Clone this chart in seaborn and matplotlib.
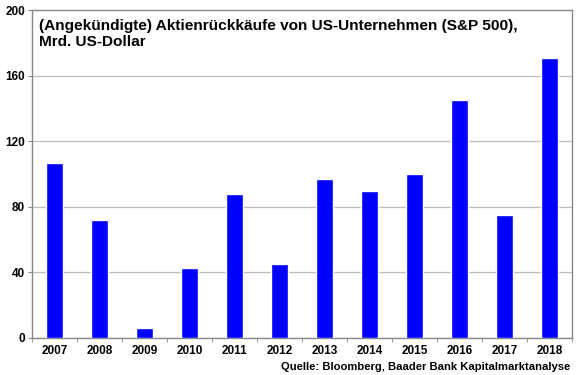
import matplotlib
matplotlib.use("Agg")
import matplotlib.pyplot as plt
import seaborn as sns
import pandas as pd

years = ["2007", "2008", "2009", "2010", "2011", "2012", "2013", "2014", "2015", "2016", "2017", "2018"]
values = [107, 72, 6, 43, 88, 45, 97, 90, 100, 145, 75, 171]
yticks = [0, 40, 80, 120, 160, 200]
title = "(Angekündigte) Aktienrückkäufe von US-Unternehmen (S&P 500),\nMrd. US-Dollar"
source = "Quelle: Bloomberg, Baader Bank Kapitalmarktanalyse"

sns.set_style("white")
plt.rcParams["font.family"] = ["Liberation Sans", "DejaVu Sans"]
plt.rcParams["text.color"] = "black"
plt.rcParams["xtick.color"] = "black"
plt.rcParams["ytick.color"] = "black"

df = pd.DataFrame({"Jahr": years, "Wert": values})

fig = plt.figure(figsize=(5.8, 3.75), dpi=100)
ax = fig.add_axes([0.055, 0.0987, 0.931, 0.874])
sns.barplot(data=df, x="Jahr", y="Wert", color="#0000FF", saturation=1, width=0.39, ax=ax, zorder=3)

ax.set_ylim(0, 200)
ax.set_xlim(-0.5, len(years) - 0.5)
ax.set_yticks(yticks)
ax.set_yticklabels([str(t) for t in yticks], fontsize=8.5, fontweight="bold", color="black")
ax.set_xticks(range(len(years)))
ax.set_xticklabels(years, fontsize=8.5, fontweight="bold", color="black")
ax.tick_params(axis="x", length=0, pad=5)
ax.tick_params(axis="y", length=3, color="#888888", pad=2, direction="out", left=True)
ax.set_xticks([i - 0.5 for i in range(len(years) + 1)], minor=True)
ax.tick_params(axis="x", which="minor", length=3, color="#888888", bottom=True)
ax.set_xlabel("")
ax.set_ylabel("")
ax.grid(axis="y", color="#BBBBBB", linewidth=0.9, zorder=0)
ax.set_axisbelow(True)
for s in ax.spines.values():
    s.set_color("#888888")
    s.set_linewidth(1)
    s.set_visible(True)

ax.text(0.014, 0.973, title, transform=ax.transAxes, ha="left", va="top",
        fontsize=11.1, fontweight="bold", linespacing=1.18, color="black")
fig.text(0.983, 0.008, source, ha="right", va="bottom", fontsize=8.1, fontweight="bold", color="black")

fig.savefig("out.png", dpi=100)
